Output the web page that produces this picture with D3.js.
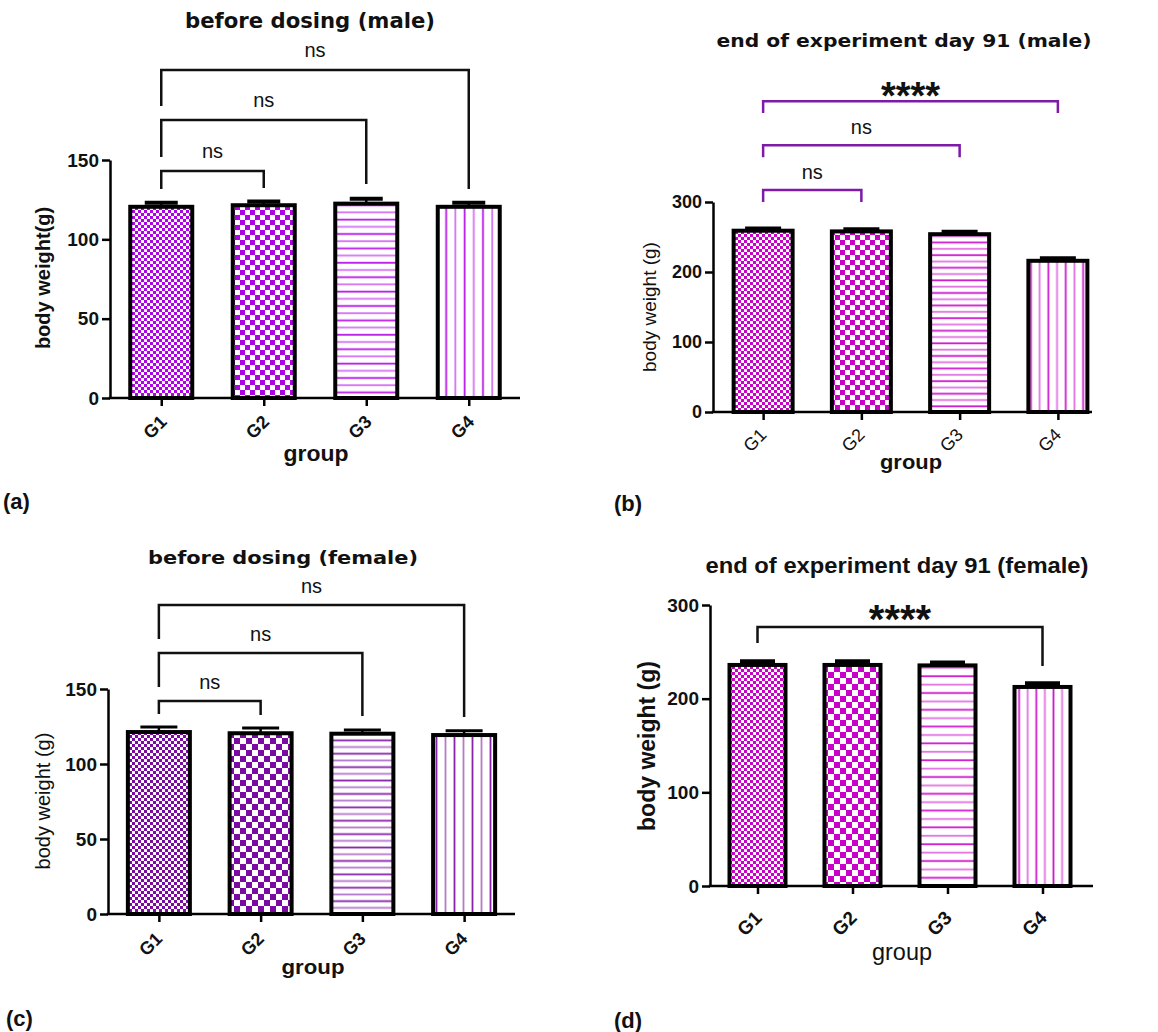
<!DOCTYPE html>
<html>
<head>
<meta charset="utf-8">
<script src="https://cdn.jsdelivr.net/npm/d3@7"></script>
<style>
body { margin: 0; background: #fff; }
svg { display: block; font-family: "Liberation Sans", Arial, sans-serif; }
</style>
</head>
<body>
<svg id="fig" width="1158" height="1032"></svg>
<script>
// ---- data ----
const groups = ["G1", "G2", "G3", "G4"];

const maleBefore = [120.5, 121.5, 122.5, 120.5];
const maleBeforeSem = [2.5, 2.3, 3, 2.5];
const maleDay91 = [259, 258, 254, 216];
const maleDay91Sem = [3, 3, 3.5, 3.5];
const femaleBefore = [121.3, 120.5, 120.2, 119.3];
const femaleBeforeSem = [3.3, 3.5, 2.5, 2.9];
const femaleDay91 = [236, 236, 235.5, 212.5];
const femaleDay91Sem = [3.4, 3.4, 2.7, 3.4];

const ticks150 = [0, 50, 100, 150];
const ticks300 = [0, 100, 200, 300];

// comparisons vs G1: [from, to, label]
const maleBeforeStats = [[0, 1, "ns"], [0, 2, "ns"], [0, 3, "ns"]];
const maleDay91Stats = [[0, 1, "ns"], [0, 2, "ns"], [0, 3, "****"]];
const femaleBeforeStats = [[0, 1, "ns"], [0, 2, "ns"], [0, 3, "ns"]];
const femaleDay91Stats = [[0, 3, "****"]];

// ---- layout ----
const wideFont = "DejaVu Sans, Verdana, sans-serif";
const armFont = "Liberation Sans, Arial, sans-serif";

const panels = [
  {
    key: "a", values: maleBefore, sem: maleBeforeSem, ticks: ticks150, stats: maleBeforeStats,
    title: "before dosing (male)", yLabel: "body weight(g)",
    color: "#b000e6", bracketColor: "#111",
    axisX: 110, range: [110, 520], xEnd: 520, yBase: 398, yTop: 160, yMax: 150,
    barW: 62, capW: 33, capSW: 4, fine: 3, coarse: 5, hGap: 7.2, vGap: 9.2,
    brackets: [[143, 131.7, 132.3], [175.2, 151.9, 134.8], [206.7, 184, 131.7]],
    nsOff: 13, starOff: 0, starSize: 38,
    tickFont: 19, tickWeight: "bold", xFont: 18, xWeight: "bold", xOff: [6, 25],
    yLabelFont: 20, yLabelWeight: "bold", yLabelPos: [50, 278],
    titleFont: 21, titleFamily: wideFont, titleLen: 250, titlePos: [310, 28],
    groupFont: 22, groupWeight: "bold", groupLen: 65, groupPos: [316, 461],
    tag: "(a)", tagPos: [3, 509]
  },
  {
    key: "b", values: maleDay91, sem: maleDay91Sem, ticks: ticks300, stats: maleDay91Stats,
    title: "end of experiment day 91 (male)", yLabel: "body weight (g)",
    color: "#c800c8", bracketColor: "#7d1aa8",
    axisX: 713, range: [714, 1107], xEnd: 1092, yBase: 412, yTop: 202, yMax: 300,
    barW: 59, capW: 36, capSW: 4, fine: 3, coarse: 5, hGap: 6.3, vGap: 8.7,
    brackets: [[317, 300, 300], [381, 364, 364], [444, 427, 427]],
    nsOff: 11, starOff: -8, starSize: 38,
    tickFont: 18, tickWeight: "bold", xFont: 18, xWeight: "normal", xOff: [4, 24],
    yLabelFont: 19, yLabelWeight: "normal", yLabelPos: [656, 307],
    titleFont: 17, titleFamily: wideFont, titleLen: 375, titlePos: [904, 47],
    groupFont: 21, groupWeight: "bold", groupLen: 62, groupPos: [911, 469],
    tag: "(b)", tagPos: [614, 511]
  },
  {
    key: "c", values: femaleBefore, sem: femaleBeforeSem, ticks: ticks150, stats: femaleBeforeStats,
    title: "before dosing (female)", yLabel: "body weight (g)",
    color: "#7a0aa0", bracketColor: "#111",
    axisX: 108, range: [108, 515], xEnd: 515, yBase: 914, yTop: 689, yMax: 150,
    barW: 62, capW: 37, capSW: 3, fine: 3, coarse: 6, hGap: 6.7, vGap: 9,
    brackets: [[142, 133.3, 132.7], [174, 151.3, 132], [206, 183.3, 131.3]],
    nsOff: 12, starOff: 0, starSize: 38,
    tickFont: 19, tickWeight: "bold", xFont: 18, xWeight: "bold", xOff: [4, 26],
    yLabelFont: 20, yLabelWeight: "normal", yLabelPos: [50, 801],
    titleFont: 18, titleFamily: wideFont, titleLen: 270, titlePos: [283, 564],
    groupFont: 21, groupWeight: "bold", groupLen: 63, groupPos: [313, 974],
    tag: "(c)", tagPos: [6, 1026]
  },
  {
    key: "d", values: femaleDay91, sem: femaleDay91Sem, ticks: ticks300, stats: femaleDay91Stats,
    title: "end of experiment day 91 (female)", yLabel: "body weight (g)",
    color: "#c800c8", bracketColor: "#111",
    axisX: 710, range: [710, 1090], xEnd: 1093, yBase: 886, yTop: 605, yMax: 300,
    barW: 56, capW: 35, capSW: 5, fine: 3, coarse: 6, hGap: 8.4, vGap: 8.6,
    brackets: [[276.4, 259.3, 234.8]],
    nsOff: 12, starOff: -6, starSize: 40,
    tickFont: 19, tickWeight: "bold", xFont: 19, xWeight: "bold", xOff: [5, 33],
    yLabelFont: 23, yLabelWeight: "bold", yLabelPos: [655, 746],
    titleFont: 22, titleFamily: armFont, titleLen: 383, titlePos: [897, 573],
    groupFont: 23, groupWeight: "normal", groupLen: 60, groupPos: [902, 960],
    tag: "(d)", tagPos: [614, 1028]
  }
];

const svg = d3.select("#fig");
const defs = svg.append("defs");

// four fills per panel: fine checker, coarse checker, horizontal lines, vertical lines
function makePatterns(p) {
  [p.fine, p.coarse].forEach((s, i) => {
    const pat = defs.append("pattern").attr("id", `pat-${p.key}-${i}`)
      .attr("patternUnits", "userSpaceOnUse").attr("width", s * 2).attr("height", s * 2);
    pat.append("rect").attr("width", s * 2).attr("height", s * 2).attr("fill", "#fff");
    pat.append("rect").attr("width", s).attr("height", s).attr("fill", p.color);
    pat.append("rect").attr("x", s).attr("y", s).attr("width", s).attr("height", s).attr("fill", p.color);
  });

  let pat = defs.append("pattern").attr("id", `pat-${p.key}-2`)
    .attr("patternUnits", "userSpaceOnUse").attr("width", 10).attr("height", p.hGap * 2);
  pat.append("rect").attr("width", 10).attr("height", p.hGap * 2).attr("fill", "#fff");
  [0.5, 1.5].forEach((k, i) => pat.append("line")
    .attr("x1", 0).attr("x2", 10).attr("y1", p.hGap * k).attr("y2", p.hGap * k)
    .attr("stroke", p.color).attr("stroke-width", 1.8).attr("opacity", i ? 0.55 : 0.9));

  pat = defs.append("pattern").attr("id", `pat-${p.key}-3`)
    .attr("patternUnits", "userSpaceOnUse").attr("width", p.vGap * 2).attr("height", 10);
  pat.append("rect").attr("width", p.vGap * 2).attr("height", 10).attr("fill", "#fff");
  [0.5, 1.5].forEach((k, i) => pat.append("line")
    .attr("y1", 0).attr("y2", 10).attr("x1", p.vGap * k).attr("x2", p.vGap * k)
    .attr("stroke", p.color).attr("stroke-width", 1.8).attr("opacity", i ? 0.55 : 0.9));
}

function stretchedText(g, str, pos, size, weight, len, family) {
  return g.append("text")
    .attr("x", pos[0]).attr("y", pos[1])
    .attr("text-anchor", "middle")
    .attr("font-family", family || armFont)
    .attr("font-size", size).attr("font-weight", weight)
    .attr("textLength", len).attr("lengthAdjust", "spacingAndGlyphs")
    .attr("fill", "#111")
    .text(str);
}

function drawPanel(p) {
  makePatterns(p);
  const g = svg.append("g");

  const x = d3.scalePoint().domain(groups).range(p.range).padding(0.5);
  const y = d3.scaleLinear().domain([0, p.yMax]).range([p.yBase, p.yTop]);
  const rows = groups.map((d, i) => ({ g: d, i, v: p.values[i], e: p.sem[i] }));

  // bars
  g.selectAll("rect.bar").data(rows).join("rect")
    .attr("class", "bar")
    .attr("x", d => x(d.g) - p.barW / 2)
    .attr("width", p.barW)
    .attr("y", d => y(d.v))
    .attr("height", d => y(0) - y(d.v))
    .attr("fill", d => `url(#pat-${p.key}-${d.i})`)
    .attr("stroke", "#000")
    .attr("stroke-width", 4);

  // error bars (upper only)
  g.selectAll("line.stem").data(rows).join("line")
    .attr("class", "stem")
    .attr("x1", d => x(d.g)).attr("x2", d => x(d.g))
    .attr("y1", d => y(d.v)).attr("y2", d => y(d.v + d.e))
    .attr("stroke", "#000").attr("stroke-width", 2.5);
  g.selectAll("line.cap").data(rows).join("line")
    .attr("class", "cap")
    .attr("x1", d => x(d.g) - p.capW / 2).attr("x2", d => x(d.g) + p.capW / 2)
    .attr("y1", d => y(d.v + d.e)).attr("y2", d => y(d.v + d.e))
    .attr("stroke", "#000").attr("stroke-width", p.capSW);

  // y axis
  const ya = g.append("g")
    .attr("transform", `translate(${p.axisX},0)`)
    .call(d3.axisLeft(y).tickValues(p.ticks).tickSize(8).tickSizeOuter(0).tickPadding(3));
  ya.select(".domain").attr("stroke", "#000").attr("stroke-width", 2.5);
  ya.selectAll(".tick line").attr("stroke", "#000").attr("stroke-width", 2.5);
  ya.selectAll(".tick text")
    .attr("font-family", armFont)
    .attr("font-size", p.tickFont).attr("font-weight", p.tickWeight).attr("fill", "#111");

  // x axis
  const xa = g.append("g")
    .attr("transform", `translate(0,${p.yBase})`)
    .call(d3.axisBottom(x).tickSize(8).tickSizeOuter(0));
  xa.select(".domain").remove();
  xa.append("line")
    .attr("x1", p.axisX - 1.25).attr("x2", p.xEnd)
    .attr("stroke", "#000").attr("stroke-width", 2.5);
  xa.selectAll(".tick line").attr("stroke", "#000").attr("stroke-width", 2.5);
  xa.selectAll(".tick text")
    .attr("font-family", armFont)
    .attr("font-size", p.xFont).attr("font-weight", p.xWeight).attr("fill", "#111")
    .attr("text-anchor", "end")
    .attr("x", 0).attr("y", 0).attr("dy", 0)
    .attr("transform", `translate(${p.xOff[0]},${p.xOff[1]}) rotate(-45)`);

  // significance brackets
  p.stats.forEach((s, k) => {
    const [hy, la, lb] = p.brackets[k];
    const xa0 = x(groups[s[0]]), xb0 = x(groups[s[1]]);
    g.append("path")
      .attr("d", `M${xa0},${y(la)}V${y(hy)}H${xb0}V${y(lb)}`)
      .attr("fill", "none").attr("stroke", p.bracketColor).attr("stroke-width", 2.5);
    const star = s[2] !== "ns";
    g.append("text")
      .attr("x", (xa0 + xb0) / 2)
      .attr("y", y(hy) - (star ? p.starOff : p.nsOff))
      .attr("text-anchor", "middle")
      .attr("font-size", star ? p.starSize : 20)
      .attr("font-weight", star ? "bold" : "normal")
      .attr("fill", "#111")
      .text(s[2]);
  });

  // labels
  stretchedText(g, p.title, p.titlePos, p.titleFont, "bold", p.titleLen, p.titleFamily);
  stretchedText(g, "group", p.groupPos, p.groupFont, p.groupWeight, p.groupLen);
  g.append("text")
    .attr("transform", `translate(${p.yLabelPos[0]},${p.yLabelPos[1]}) rotate(-90)`)
    .attr("text-anchor", "middle")
    .attr("font-size", p.yLabelFont).attr("font-weight", p.yLabelWeight)
    .attr("fill", "#111")
    .text(p.yLabel);
  g.append("text")
    .attr("x", p.tagPos[0]).attr("y", p.tagPos[1])
    .attr("font-size", 22).attr("font-weight", "bold").attr("fill", "#111")
    .text(p.tag);
}

panels.forEach(drawPanel);
</script>
</body>
</html>
